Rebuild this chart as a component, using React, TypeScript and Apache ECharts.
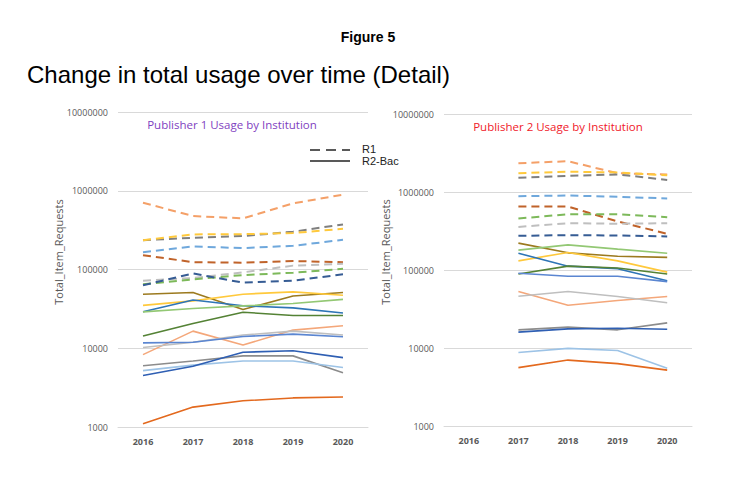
import * as echarts from "echarts";
import { useEffect, useRef } from "react";

const years = ["2016", "2017", "2018", "2019", "2020"];

// Publisher 1, R1 (dashed)
const p1R1Orange = [705000, 477000, 446000, 692000, 891000];
const p1R1Gray = [236000, 253000, 266000, 302000, 374000];
const p1R1Yellow = [236000, 279000, 281000, 290000, 329000];
const p1R1LightBlue = [166000, 196000, 187000, 200000, 238000];
const p1R1Brown = [152000, 124000, 122000, 128000, 124000];
const p1R1LightGray = [72000, 78000, 92000, 112000, 118000];
const p1R1Green = [65000, 75000, 85000, 91000, 102000];
const p1R1DarkBlue = [63000, 89000, 68000, 72000, 87000];

// Publisher 1, R2-Bac (solid)
const p1BacOlive = [48600, 51000, 31000, 46000, 51000];
const p1BacYellow = [35000, 40000, 48600, 52000, 47000];
const p1BacBlue = [29000, 41000, 34600, 32600, 28000];
const p1BacLightGreen = [29000, 32000, 34500, 37000, 41700];
const p1BacDarkGreen = [14300, 20600, 28700, 26000, 26000];
const p1BacLightOrange = [8300, 16500, 11000, 17000, 19300];
const p1BacLightGray = [10200, 11900, 14700, 16500, 14700];
const p1BacCornflower = [11700, 11900, 14100, 15100, 14000];
const p1BacDarkGray = [6000, 6900, 8000, 8000, 4900];
const p1BacSky = [5200, 6100, 6900, 6900, 5700];
const p1BacRoyal = [4500, 5900, 8900, 9300, 7600];
const p1BacOrange = [1100, 1790, 2150, 2340, 2400];

// Publisher 2, R1 (dashed) - no 2016 data
const p2R1Orange = [null, 2340000, 2480000, 1740000, 1680000];
const p2R1Yellow = [null, 1740000, 1820000, 1780000, 1640000];
const p2R1Gray = [null, 1520000, 1610000, 1680000, 1430000];
const p2R1LightBlue = [null, 883000, 902000, 868000, 826000];
const p2R1Brown = [null, 652000, 652000, 419000, 291000];
const p2R1Green = [null, 457000, 519000, 519000, 475000];
const p2R1LightGray = [null, 357000, 398000, 392000, 398000];
const p2R1DarkBlue = [null, 274000, 280000, 277000, 269000];

// Publisher 2, R2-Bac (solid)
const p2BacOlive = [null, 221000, 166000, 150000, 145000];
const p2BacLightGreen = [null, 180000, 210000, 185000, 164000];
const p2BacYellow = [null, 131000, 168000, 131000, 94000];
const p2BacBlue = [null, 164000, 112000, 104000, 73000];
const p2BacDarkGreen = [null, 89000, 112000, 106000, 89000];
const p2BacCornflower = [null, 91000, 83000, 83000, 71000];
const p2BacLightOrange = [null, 53000, 35400, 40600, 45700];
const p2BacLightGray = [null, 46000, 53000, 45700, 38000];
const p2BacDarkGray = [null, 17100, 18500, 17100, 21000];
const p2BacRoyal = [null, 16000, 17600, 17900, 17400];
const p2BacSky = [null, 8750, 9900, 9300, 5500];
const p2BacOrange = [null, 5600, 7000, 6300, 5200];

const C = {
	orange: "#F4A068",
	gray: "#7F7F7F",
	yellow: "#FFC93C",
	lightBlue: "#6FA8DC",
	brown: "#C0632A",
	lightGray: "#BFBFBF",
	green: "#7DB95A",
	darkBlue: "#365C94",
	olive: "#9C7A1F",
	blue: "#2E75B6",
	lightGreen: "#93C874",
	darkGreen: "#548235",
	lightOrange: "#F4A77A",
	cornflower: "#5B86D1",
	darkGray: "#8C8C8C",
	sky: "#9DC3E6",
	royal: "#2F5FB3",
	deepOrange: "#E3691E",
};

type Line = [(number | null)[], string, boolean];

const p1Lines: Line[] = [
	[p1R1Orange, C.orange, true],
	[p1R1Gray, C.gray, true],
	[p1R1Yellow, C.yellow, true],
	[p1R1LightBlue, C.lightBlue, true],
	[p1R1Brown, C.brown, true],
	[p1R1LightGray, C.lightGray, true],
	[p1R1Green, C.green, true],
	[p1R1DarkBlue, C.darkBlue, true],
	[p1BacOlive, C.olive, false],
	[p1BacYellow, C.yellow, false],
	[p1BacBlue, C.blue, false],
	[p1BacLightGreen, C.lightGreen, false],
	[p1BacDarkGreen, C.darkGreen, false],
	[p1BacLightOrange, C.lightOrange, false],
	[p1BacLightGray, C.lightGray, false],
	[p1BacCornflower, C.cornflower, false],
	[p1BacDarkGray, C.darkGray, false],
	[p1BacSky, C.sky, false],
	[p1BacRoyal, C.royal, false],
	[p1BacOrange, C.deepOrange, false],
];

const p2Lines: Line[] = [
	[p2R1Orange, C.orange, true],
	[p2R1Yellow, C.yellow, true],
	[p2R1Gray, C.gray, true],
	[p2R1LightBlue, C.lightBlue, true],
	[p2R1Brown, C.brown, true],
	[p2R1Green, C.green, true],
	[p2R1LightGray, C.lightGray, true],
	[p2R1DarkBlue, C.darkBlue, true],
	[p2BacOlive, C.olive, false],
	[p2BacLightGreen, C.lightGreen, false],
	[p2BacYellow, C.yellow, false],
	[p2BacBlue, C.blue, false],
	[p2BacDarkGreen, C.darkGreen, false],
	[p2BacCornflower, C.cornflower, false],
	[p2BacLightOrange, C.lightOrange, false],
	[p2BacLightGray, C.lightGray, false],
	[p2BacDarkGray, C.darkGray, false],
	[p2BacRoyal, C.royal, false],
	[p2BacSky, C.sky, false],
	[p2BacOrange, C.deepOrange, false],
];

const labelColor = "#595959";
const gridColor = "#D9D9D9";

function makeSeries(lines: Line[], idx: number) {
	return lines.map(([data, color, dashed]) => ({
		type: "line",
		xAxisIndex: idx,
		yAxisIndex: idx,
		data,
		symbol: "none",
		connectNulls: false,
		lineStyle: {
			color,
			width: dashed ? 2 : 1.6,
			type: dashed ? [8, 5] : "solid",
		},
	}));
}

function xAxis(gridIndex: number) {
	return {
		type: "category",
		gridIndex,
		data: years,
		boundaryGap: true,
		axisLine: { show: true, lineStyle: { color: gridColor } },
		axisTick: { show: false },
		axisLabel: {
			color: labelColor,
			fontFamily: "Open Sans",
			fontWeight: "bold",
			fontSize: 9,
			margin: 10,
		},
	};
}

function yAxis(gridIndex: number) {
	return {
		type: "log",
		logBase: 10,
		gridIndex,
		min: 1000,
		max: 10000000,
		axisLine: { show: false },
		axisTick: { show: false },
		splitLine: { lineStyle: { color: gridColor } },
		axisLabel: {
			color: labelColor,
			fontFamily: "Open Sans",
			fontSize: 9,
			margin: 10,
			formatter: (v: number) => String(Math.round(v)),
		},
	};
}

export default function App() {
	const ref = useRef<HTMLDivElement>(null);
	useEffect(() => {
		if (!ref.current) return;
		const chart = echarts.init(ref.current, null, { renderer: "svg" });
		chart.setOption({
			animation: false,
			backgroundColor: "#ffffff",
			title: [
				{
					text: "Figure 5",
					left: 368,
					top: 30,
					padding: 0,
					textAlign: "center",
					textStyle: { fontFamily: "Liberation Sans", fontSize: 14, fontWeight: "bold", color: "#000" },
				},
				{
					text: "Change in total usage over time (Detail)",
					left: 27,
					top: 62,
					padding: 0,
					textStyle: { fontFamily: "Liberation Sans", fontSize: 24, fontWeight: "normal", color: "#000" },
				},
				{
					text: "Publisher 1 Usage by Institution",
					left: 232,
					top: 118,
					padding: 0,
					textAlign: "center",
					textStyle: { fontFamily: "Open Sans", fontSize: 11.5, fontWeight: "normal", color: "#7F3FBF" },
				},
				{
					text: "Publisher 2 Usage by Institution",
					left: 558,
					top: 120,
					padding: 0,
					textAlign: "center",
					textStyle: { fontFamily: "Open Sans", fontSize: 11.5, fontWeight: "normal", color: "#F0202A" },
				},
			],
			grid: [
				{ left: 118, width: 250, top: 112, height: 315 },
				{ left: 444, width: 248, top: 114, height: 312 },
			],
			xAxis: [xAxis(0), xAxis(1)],
			yAxis: [yAxis(0), yAxis(1)],
			graphic: [
				{
					type: "text",
					x: 58,
					y: 252,
					rotation: Math.PI / 2,
					style: {
						text: "Total_Item_Requests",
						fill: labelColor,
						font: "11px 'Open Sans'",
						textAlign: "center",
						textVerticalAlign: "middle",
					},
				},
				{
					type: "text",
					x: 385,
					y: 252,
					rotation: Math.PI / 2,
					style: {
						text: "Total_Item_Requests",
						fill: labelColor,
						font: "11px 'Open Sans'",
						textAlign: "center",
						textVerticalAlign: "middle",
					},
				},
				{
					type: "line",
					shape: { x1: 310, y1: 150, x2: 350, y2: 150 },
					style: { stroke: "#595959", lineWidth: 2, lineDash: [10, 6] },
				},
				{
					type: "line",
					shape: { x1: 310, y1: 161, x2: 350, y2: 161 },
					style: { stroke: "#595959", lineWidth: 2 },
				},
				{
					type: "text",
					x: 362,
					y: 149,
					style: { text: "R1", fill: "#222", font: "11px 'Liberation Sans'", textVerticalAlign: "middle" },
				},
				{
					type: "text",
					x: 362,
					y: 161,
					style: { text: "R2-Bac", fill: "#222", font: "11px 'Liberation Sans'", textVerticalAlign: "middle" },
				},
			],
			series: [...makeSeries(p1Lines, 0), ...makeSeries(p2Lines, 1)],
		});
		return () => chart.dispose();
	}, []);
	return (
		<div
			ref={ref}
			style={{ position: "fixed", left: 0, top: 0, width: 735, height: 478 }}
		/>
	);
}
